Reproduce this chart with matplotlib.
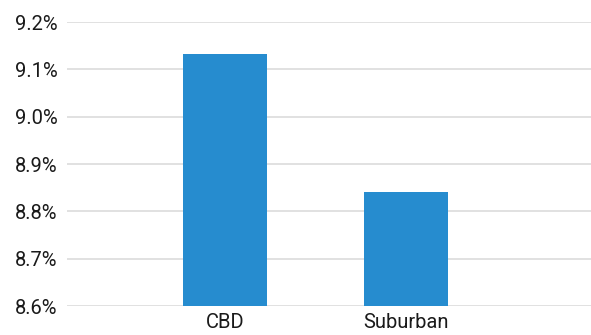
import matplotlib
matplotlib.use("Agg")
import matplotlib.pyplot as plt
from matplotlib.ticker import FuncFormatter

categories = ["CBD", "Suburban"]
values = [9.132, 8.84]
yticks = [8.6, 8.7, 8.8, 8.9, 9.0, 9.1, 9.2]

plt.rcParams['font.family'] = ['Roboto', 'DejaVu Sans']

fig = plt.figure(figsize=(5.91, 3.35), dpi=100)
ax = fig.add_axes([67 / 591, 29 / 335, 524 / 591, 284 / 335])

ax.bar(range(len(categories)), values, width=0.46, color="#268ccf", zorder=3)

ax.set_ylim(8.6, 9.2)
ax.set_yticks(yticks)
ax.yaxis.set_major_formatter(FuncFormatter(lambda v, p: f"{v:.1f}%"))
ax.set_xlim(-0.873, 2.022)
ax.set_xticks(range(len(categories)))
ax.set_xticklabels(categories)

ax.grid(axis="y", color="#dcdcdc", linewidth=1.2, zorder=0)
for s in ax.spines.values():
    s.set_visible(False)
ax.tick_params(axis="both", length=0, labelsize=14.5, colors="#1a1a1a")
ax.tick_params(axis="y", pad=7)
ax.tick_params(axis="x", pad=5)

fig.savefig("out.png", dpi=100)
